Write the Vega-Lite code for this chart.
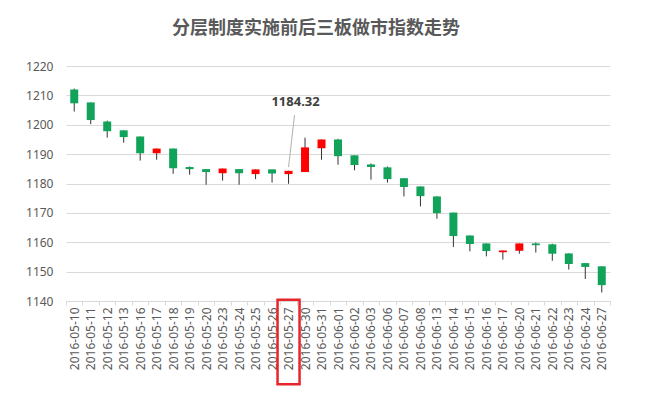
{
  "$schema": "https://vega.github.io/schema/vega-lite/v6.json",
  "autosize": "none",
  "width": 544,
  "height": 235,
  "padding": {"left": 66, "top": 66, "right": 39, "bottom": 99},
  "background": "white",
  "title": {
    "text": "分层制度实施前后三板做市指数走势",
    "font": "Noto Sans CJK SC",
    "fontSize": 18,
    "fontWeight": "bold",
    "color": "#595959",
    "anchor": "middle",
    "dx": -22,
    "offset": 22
  },
  "config": {
    "view": {"stroke": null},
    "axis": {"labelFont": "Noto Sans", "labelFontSize": 12, "labelColor": "#595959", "titleColor": "#595959"}
  },
  "data": {
    "values": [
      {"date": "2016-05-10", "open": 1212.0, "close": 1207.3, "high": 1212.3, "low": 1204.5},
      {"date": "2016-05-11", "open": 1207.6, "close": 1201.6, "high": 1207.6, "low": 1200.2},
      {"date": "2016-05-12", "open": 1201.1, "close": 1197.8, "high": 1201.4, "low": 1195.6},
      {"date": "2016-05-13", "open": 1198.1, "close": 1195.8, "high": 1198.1, "low": 1193.9},
      {"date": "2016-05-16", "open": 1196.0, "close": 1190.3, "high": 1196.0, "low": 1187.8},
      {"date": "2016-05-17", "open": 1190.3, "close": 1191.9, "high": 1191.9, "low": 1188.1},
      {"date": "2016-05-18", "open": 1191.9, "close": 1185.2, "high": 1191.9, "low": 1183.3},
      {"date": "2016-05-19", "open": 1185.6, "close": 1184.9, "high": 1185.8, "low": 1183.0},
      {"date": "2016-05-20", "open": 1184.9, "close": 1183.9, "high": 1184.9, "low": 1179.6},
      {"date": "2016-05-23", "open": 1183.5, "close": 1185.1, "high": 1185.1, "low": 1181.0},
      {"date": "2016-05-24", "open": 1184.9, "close": 1183.5, "high": 1184.9, "low": 1179.6},
      {"date": "2016-05-25", "open": 1183.2, "close": 1184.8, "high": 1184.8, "low": 1181.5},
      {"date": "2016-05-26", "open": 1184.8, "close": 1183.4, "high": 1184.8, "low": 1180.3},
      {"date": "2016-05-27", "open": 1183.2, "close": 1184.32, "high": 1184.32, "low": 1179.9},
      {"date": "2016-05-30", "open": 1183.9, "close": 1192.3, "high": 1195.6, "low": 1183.9},
      {"date": "2016-05-31", "open": 1192.0, "close": 1195.0, "high": 1195.0, "low": 1188.1},
      {"date": "2016-06-01", "open": 1195.0, "close": 1189.3, "high": 1195.2, "low": 1186.4},
      {"date": "2016-06-02", "open": 1189.6, "close": 1186.3, "high": 1189.6, "low": 1184.5},
      {"date": "2016-06-03", "open": 1186.5, "close": 1185.6, "high": 1186.8, "low": 1181.3},
      {"date": "2016-06-06", "open": 1185.5, "close": 1181.5, "high": 1185.8, "low": 1180.3},
      {"date": "2016-06-07", "open": 1181.8, "close": 1178.8, "high": 1181.8, "low": 1175.6},
      {"date": "2016-06-08", "open": 1179.0, "close": 1175.7, "high": 1179.0, "low": 1172.2},
      {"date": "2016-06-13", "open": 1175.6, "close": 1169.9, "high": 1175.6, "low": 1168.0},
      {"date": "2016-06-14", "open": 1170.1, "close": 1162.1, "high": 1170.1, "low": 1158.4},
      {"date": "2016-06-15", "open": 1162.3, "close": 1159.4, "high": 1162.3, "low": 1156.9},
      {"date": "2016-06-16", "open": 1159.6, "close": 1157.0, "high": 1159.6, "low": 1155.2},
      {"date": "2016-06-17", "open": 1156.6, "close": 1157.2, "high": 1157.2, "low": 1154.1},
      {"date": "2016-06-20", "open": 1157.1, "close": 1159.6, "high": 1159.6, "low": 1156.1},
      {"date": "2016-06-21", "open": 1159.6, "close": 1159.0, "high": 1159.9, "low": 1156.5},
      {"date": "2016-06-22", "open": 1159.3, "close": 1156.1, "high": 1159.5, "low": 1153.7},
      {"date": "2016-06-23", "open": 1156.2, "close": 1152.6, "high": 1156.2, "low": 1150.7},
      {"date": "2016-06-24", "open": 1152.9, "close": 1151.6, "high": 1152.9, "low": 1147.5},
      {"date": "2016-06-27", "open": 1151.8, "close": 1145.4, "high": 1151.8, "low": 1142.9}
    ]
  },
  "encoding": {
    "x": {
      "field": "date",
      "type": "ordinal",
      "sort": null,
      "title": null,
      "axis": {
        "labelAngle": -90,
        "tickBand": "extent",
        "tickSize": 4,
        "labelPadding": 2,
        "domainColor": "#d9d9d9",
        "tickColor": "#d9d9d9",
        "grid": false
      }
    }
  },
  "layer": [
    {
      "mark": {"type": "rule", "color": "#333333", "strokeWidth": 1},
      "encoding": {
        "y": {
          "field": "low",
          "type": "quantitative",
          "scale": {"domain": [1140, 1220], "nice": false, "zero": false},
          "axis": {"title": null, "values": [1140, 1150, 1160, 1170, 1180, 1190, 1200, 1210, 1220], "format": "d", "labelOverlap": false, "domain": false, "ticks": false, "labelPadding": 13, "gridColor": "#d9d9d9", "gridWidth": 1}
        },
        "y2": {"field": "high"}
      }
    },
    {
      "mark": {"type": "bar", "size": 8},
      "encoding": {
        "y": {
          "field": "open",
          "type": "quantitative",
          "axis": {"title": null, "values": [1140, 1150, 1160, 1170, 1180, 1190, 1200, 1210, 1220], "format": "d", "labelOverlap": false, "domain": false, "ticks": false, "labelPadding": 13, "gridColor": "#d9d9d9", "gridWidth": 1}
        },
        "y2": {"field": "close"},
        "color": {
          "condition": {"test": "datum.close > datum.open", "value": "#ff0000"},
          "value": "#12a35a"
        }
      }
    },
    {
      "transform": [{"filter": "datum.date == '2016-05-27'"}],
      "mark": {"type": "rule", "color": "#b0b0b0", "strokeWidth": 1, "xOffset": 6},
      "encoding": {
        "y": {
          "datum": 1203.3,
          "type": "quantitative",
          "axis": {"title": null, "values": [1140, 1150, 1160, 1170, 1180, 1190, 1200, 1210, 1220], "format": "d", "labelOverlap": false, "domain": false, "ticks": false, "labelPadding": 13, "gridColor": "#d9d9d9", "gridWidth": 1}
        },
        "x2": {"field": "date"},
        "y2": {"datum": 1185.6}
      }
    },
    {
      "transform": [{"filter": "datum.date == '2016-05-27'"}],
      "mark": {"type": "text", "font": "Noto Sans", "fontSize": 13, "fontWeight": "bold", "color": "#404040", "dx": 7, "baseline": "middle"},
      "encoding": {
        "y": {
          "datum": 1207.6,
          "type": "quantitative",
          "axis": {"title": null, "values": [1140, 1150, 1160, 1170, 1180, 1190, 1200, 1210, 1220], "format": "d", "labelOverlap": false, "domain": false, "ticks": false, "labelPadding": 13, "gridColor": "#d9d9d9", "gridWidth": 1}
        },
        "text": {"field": "close", "type": "quantitative", "format": ".2f"}
      }
    },
    {
      "transform": [{"filter": "datum.date == '2016-05-27'"}],
      "mark": {"type": "bar", "size": 22, "filled": false, "color": "#e8262a", "strokeWidth": 2.5},
      "encoding": {
        "y": {
          "datum": 1140.4,
          "type": "quantitative",
          "axis": {"title": null, "values": [1140, 1150, 1160, 1170, 1180, 1190, 1200, 1210, 1220], "format": "d", "labelOverlap": false, "domain": false, "ticks": false, "labelPadding": 13, "gridColor": "#d9d9d9", "gridWidth": 1}
        },
        "y2": {"datum": 1111.7}
      }
    }
  ]
}
